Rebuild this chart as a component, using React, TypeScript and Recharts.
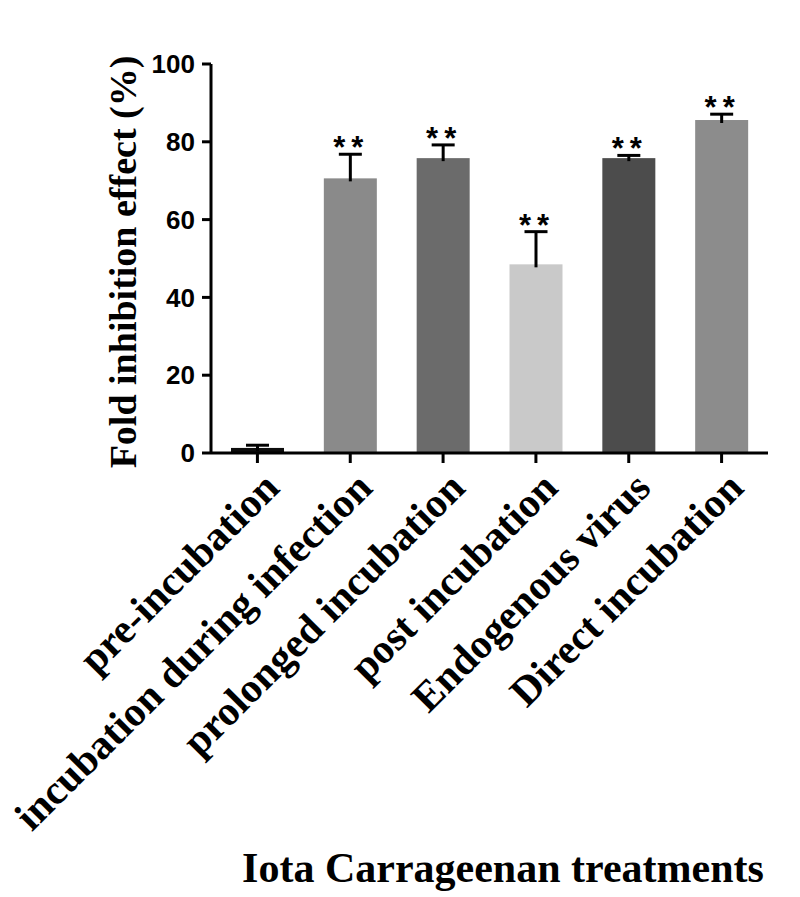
import React from 'react';
import { BarChart, Bar, XAxis, YAxis, Cell, Label } from 'recharts';

const categories = [
  'pre-incubation',
  'incubation during infection',
  'prolonged incubation',
  'post incubation',
  'Endogenous virus',
  'Direct incubation',
];
const values = [1.3, 70.6, 75.8, 48.5, 75.8, 85.6];
const errors = [0.7, 6.2, 3.4, 8.4, 0.7, 1.5];
const significance = ['', '**', '**', '**', '**', '**'];
const barColors = ['#0d0d0d', '#8a8a8a', '#6b6b6b', '#c9c9c9', '#4c4c4c', '#8c8c8c'];
const yTicks = [0, 20, 40, 60, 80, 100];

const data = categories.map((name, i) => ({
  name,
  value: values[i],
  err: errors[i],
  sig: significance[i],
}));

const SERIF = '"Liberation Serif", "Times New Roman", serif';
const SANS = '"Liberation Sans", Arial, sans-serif';

const BarShape = (props: any) => {
  const { x, y, width, height, payload, fill } = props;
  const v = payload.value;
  const ppu = v ? height / v : 0;
  const capY = y - payload.err * ppu;
  const cx = x + width / 2;
  return (
    <g>
      <rect x={x} y={y} width={width} height={height} fill={fill} />
      <line x1={cx} x2={cx} y1={y + 3} y2={capY} stroke="#000" strokeWidth={3} />
      <line x1={cx - 11.5} x2={cx + 11.5} y1={capY} y2={capY} stroke="#000" strokeWidth={3} />
      {payload.sig ? (
        <text
          x={cx + 1}
          y={capY + 4}
          textAnchor="middle"
          fontFamily={SANS}
          fontWeight="bold"
          fontSize={31}
          letterSpacing={6}
          fill="#000"
        >
          {payload.sig}
        </text>
      ) : null}
    </g>
  );
};

const XTick = (props: any) => {
  const { x, y, payload } = props;
  const tx = x + 24;
  const ty = y + 25;
  return (
    <text
      x={tx}
      y={ty}
      transform={`rotate(-45, ${tx}, ${ty})`}
      textAnchor="end"
      fontFamily={SERIF}
      fontWeight="bold"
      fontSize={41.5}
      fill="#000"
    >
      {payload.value}
    </text>
  );
};

export default function App() {
  return (
    <div style={{ position: 'absolute', left: 0, top: 0, background: '#fff' }}>
      <BarChart
        width={800}
        height={897}
        data={data}
        margin={{ top: 64, right: 32, bottom: 0, left: 131 }}
      >
        <XAxis
          dataKey="name"
          height={444}
          interval={0}
          axisLine={{ stroke: '#000', strokeWidth: 3 }}
          tickLine={{ stroke: '#000', strokeWidth: 3 }}
          tickSize={10}
          tick={<XTick />}
        >
          <Label
            content={() => (
              <text
                x={503}
                y={882}
                textAnchor="middle"
                fontFamily={SERIF}
                fontWeight="bold"
                fontSize={42}
                fill="#000"
              >
                Iota Carrageenan treatments
              </text>
            )}
          />
        </XAxis>
        <YAxis
          width={80}
          domain={[0, 100]}
          ticks={yTicks}
          interval={0}
          axisLine={{ stroke: '#000', strokeWidth: 3 }}
          tickLine={{ stroke: '#000', strokeWidth: 3 }}
          tickSize={9}
          tickMargin={7}
          tick={{ fontFamily: SANS, fontWeight: 'bold', fontSize: 26, fill: '#000' }}
        >
          <Label
            content={() => (
              <text
                x={136}
                y={262}
                transform="rotate(-90, 136, 262)"
                textAnchor="middle"
                fontFamily={SERIF}
                fontWeight="bold"
                fontSize={38}
                fill="#000"
              >
                Fold inhibition effect (%)
              </text>
            )}
          />
        </YAxis>
        <Bar dataKey="value" barSize={53} isAnimationActive={false} shape={<BarShape />}>
          {data.map((d, i) => (
            <Cell key={d.name} fill={barColors[i]} />
          ))}
        </Bar>
      </BarChart>
    </div>
  );
}
